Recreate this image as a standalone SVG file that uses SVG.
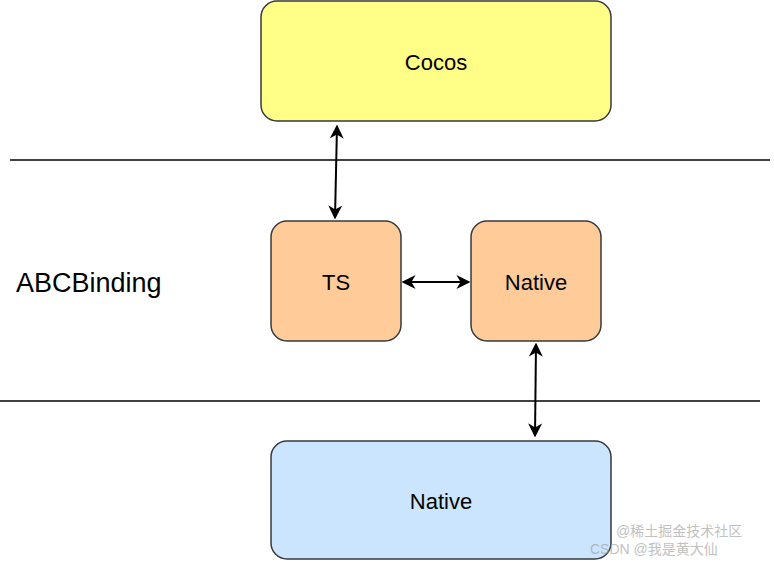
<svg xmlns="http://www.w3.org/2000/svg" width="774" height="562" viewBox="0 0 774 562">
<style>
.box{stroke:#36393d;stroke-width:1.5}
.t{font-family:"Liberation Sans",Arial,sans-serif;font-size:22px;fill:#000;text-anchor:middle;dominant-baseline:central}
.c{stroke:#000;stroke-width:2;fill:none;marker-start:url(#a);marker-end:url(#a)}
.sep{stroke:#000;stroke-width:1.5}
.wm{font-family:"Liberation Sans","Noto Sans CJK SC",sans-serif;font-size:14px;fill:#999;opacity:0.6}
</style>
<defs>
<marker id="a" viewBox="0 0 10 10" refX="9" refY="5" markerWidth="7" markerHeight="7" orient="auto-start-reverse" markerUnits="strokeWidth">
<path d="M0,0 L10,5 L0,10 L3,5 Z" fill="#000"/>
</marker>
</defs>
<rect width="774" height="562" fill="#fff"/>
<line class="sep" x1="10" y1="160" x2="770" y2="160"/>
<line class="sep" x1="0" y1="401" x2="760" y2="401"/>
<text class="t" x="16" y="283" style="text-anchor:start;font-size:27px">ABCBinding</text>
<g id="cocos"><rect class="box" x="261" y="1" width="350" height="120" rx="16" fill="#ffff88"/><text class="t" x="436" y="62">Cocos</text></g>
<g id="ts"><rect class="box" x="271" y="221" width="130" height="120" rx="16" fill="#ffcc99"/><text class="t" x="336" y="282">TS</text></g>
<g id="native1"><rect class="box" x="471" y="221" width="130" height="120" rx="16" fill="#ffcc99"/><text class="t" x="536" y="282">Native</text></g>
<g id="native2"><rect class="box" x="271" y="441" width="340" height="118" rx="16" fill="#cce5ff"/><text class="t" x="441" y="501">Native</text></g>
<g id="connectors">
<line class="c" x1="337" y1="126" x2="335" y2="218"/>
<line class="c" x1="403" y1="282" x2="469" y2="282"/>
<line class="c" x1="536" y1="344" x2="535" y2="436"/>
</g>
<text class="wm" x="616" y="536">@稀土掘金技术社区</text>
<text class="wm" x="590" y="554">CSDN @我是黄大仙</text>
</svg>
